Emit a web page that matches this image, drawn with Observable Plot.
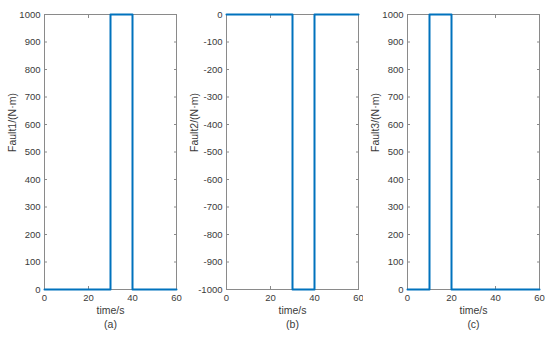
<!DOCTYPE html>
<html>
<head>
<meta charset="utf-8">
<script src="https://cdn.jsdelivr.net/npm/d3@7"></script>
<script src="https://cdn.jsdelivr.net/npm/@observablehq/plot@0.6"></script>
<style>
  html, body { margin: 0; padding: 0; background: #fff; }
  #wrap { position: relative; width: 550px; height: 338px; background: #fff; font-family: "Liberation Sans", Arial, sans-serif; }
  #wrap > div { position: absolute; top: 0; }
</style>
</head>
<body>
<div id="wrap"></div>
<script>
// Data
const time1 = [0, 30, 40, 60];
const fault1 = [0, 1000, 0, 0];
const time2 = [0, 30, 40, 60];
const fault2 = [0, -1000, 0, 0];
const time3 = [0, 10, 20, 60];
const fault3 = [0, 1000, 0, 0];
const xTicks = [0, 20, 40, 60];
const yTicksPos = [0, 100, 200, 300, 400, 500, 600, 700, 800, 900, 1000];
const yTicksNeg = [0, -100, -200, -300, -400, -500, -600, -700, -800, -900, -1000];
const yLabels = ["Fault1/(N·m)", "Fault2/(N·m)", "Fault3/(N·m)"];
const xLabel = "time/s";
const captions = ["(a)", "(b)", "(c)"];

const axisColor = "#8a8a8a";
const textColor = "#3a3a3a";
const lineColor = "#0072BD";

function panel(times, values, yDomain, yTicks, yLabel, caption, left, width) {
  const data = times.map((t, i) => ({t, v: values[i]}));
  const fmt = d => String(d);
  const chart = Plot.plot({
    width,
    height: 338,
    marginLeft: 44,
    marginRight: width - 44 - 132,
    marginTop: 14,
    marginBottom: 49,
    style: {fontFamily: "'Liberation Sans', Arial, sans-serif", fontSize: "9.5px", color: textColor, background: "#fff"},
    x: {domain: [0, 60]},
    y: {domain: yDomain},
    marks: [
      Plot.frame({stroke: axisColor, strokeWidth: 1}),
      Plot.axisX({anchor: "bottom", ticks: xTicks, tickSize: -3, tickPadding: 8, tickFormat: fmt, label: null, stroke: axisColor, fill: textColor}),
      Plot.axisX({anchor: "top", ticks: xTicks, tickSize: -3, tickFormat: () => "", label: null, stroke: axisColor}),
      Plot.axisY({anchor: "left", ticks: yTicks, tickSize: -3, tickPadding: 7, tickFormat: fmt, label: null, stroke: axisColor, fill: textColor}),
      Plot.axisY({anchor: "right", ticks: yTicks, tickSize: -3, tickFormat: () => "", label: null, stroke: axisColor}),
      Plot.line(data, {x: "t", y: "v", curve: "step-after", stroke: lineColor, strokeWidth: 2}),
      Plot.text([xLabel], {frameAnchor: "bottom", dy: 24, text: d => d, fontSize: 10.5, fill: textColor}),
      Plot.text([caption], {frameAnchor: "bottom", dy: 38, text: d => d, fontSize: 10.5, fill: textColor}),
      Plot.text([yLabel], {frameAnchor: "left", dx: -32, rotate: -90, text: d => d, fontSize: 10.5, fill: textColor})
    ]
  });
  const div = document.createElement("div");
  div.style.left = left + "px";
  div.appendChild(chart);
  document.getElementById("wrap").appendChild(div);
}

panel(time1, fault1, [0, 1000], yTicksPos, yLabels[0], captions[0], 0, 185);
panel(time2, fault2, [-1000, 0], yTicksNeg, yLabels[1], captions[1], 182, 184);
panel(time3, fault3, [0, 1000], yTicksPos, yLabels[2], captions[2], 363, 187);
</script>
</body>
</html>
